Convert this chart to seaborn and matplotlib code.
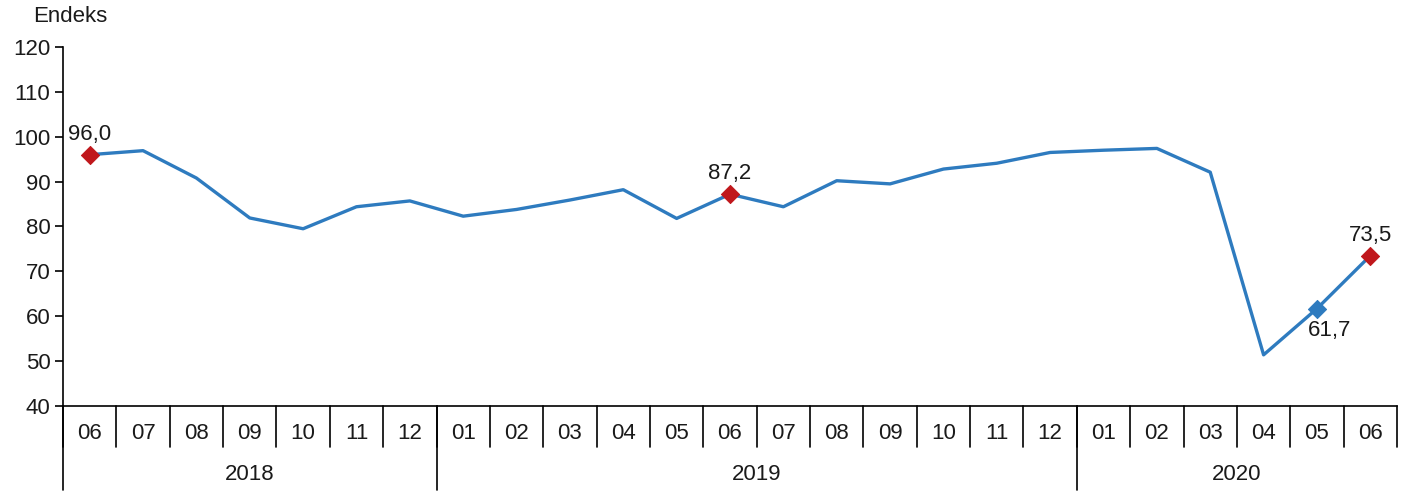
import matplotlib
matplotlib.use("Agg")
import matplotlib.pyplot as plt
import matplotlib.transforms as mtransforms
import numpy as np
import pandas as pd
import seaborn as sns

# Data
months = ["06", "07", "08", "09", "10", "11", "12",
          "01", "02", "03", "04", "05", "06", "07", "08", "09", "10", "11", "12",
          "01", "02", "03", "04", "05", "06"]
years = ["2018", "2019", "2020"]
year_counts = [7, 12, 6]
values = [96.0, 96.9, 90.8, 81.9, 79.5, 84.4, 85.7,
          82.3, 83.8, 85.9, 88.2, 81.8, 87.2, 84.4, 90.2, 89.5, 92.8, 94.1, 96.5,
          97.0, 97.4, 92.1, 51.4, 61.7, 73.5]
red_idx = [0, 12, 24]
blue_idx = [23]

LINE_BLUE = "#2E7BBF"
MARK_RED = "#C0171C"
TEXT = "#1a1a1a"
FS = 16

sns.set_theme(style="white")
plt.rcParams["font.family"] = ["Liberation Sans", "DejaVu Sans"]

df = pd.DataFrame({"x": np.arange(len(values)), "value": values})

fig = plt.figure(figsize=(14.04, 4.94), dpi=100)
ax = fig.add_axes([63 / 1404, 1 - 406 / 494, (1397 - 63) / 1404, 359 / 494])

sns.lineplot(data=df, x="x", y="value", color=LINE_BLUE, linewidth=2.4, ax=ax)
sns.scatterplot(data=df.iloc[red_idx], x="x", y="value", marker="D", s=85,
                color=MARK_RED, edgecolor=MARK_RED, zorder=5, ax=ax)
sns.scatterplot(data=df.iloc[blue_idx], x="x", y="value", marker="D", s=85,
                color=LINE_BLUE, edgecolor=LINE_BLUE, zorder=5, ax=ax)

# value labels
fmt = lambda v: f"{v:.1f}".replace(".", ",")
for i in red_idx:
    ax.annotate(fmt(values[i]), (i, values[i]), xytext=(0, 7), textcoords="offset points",
                ha="center", va="bottom", fontsize=FS, color=TEXT)
for i in blue_idx:
    ax.annotate(fmt(values[i]), (i, values[i]), xytext=(9, -8), textcoords="offset points",
                ha="center", va="top", fontsize=FS, color=TEXT)

ax.set_xlim(-0.5, len(values) - 0.5)
ax.set_ylim(40, 120)
ax.set_yticks(np.arange(40, 121, 10))
ax.set_xticks([])
ax.set_xlabel("")
ax.set_ylabel("")
ax.tick_params(axis="y", which="both", left=True, length=6, width=1.2, color="black",
               labelsize=FS, pad=3, labelcolor=TEXT)
for side in ["top", "right"]:
    ax.spines[side].set_visible(False)
for side in ["left", "bottom"]:
    ax.spines[side].set_color("black")
    ax.spines[side].set_linewidth(1.2)

# category table under the axis
trans = mtransforms.blended_transform_factory(ax.transData, ax.transAxes)
month_bottom = -41 / 359
year_bottom = -84 / 359
for i, m in enumerate(months):
    ax.text(i, -27 / 359, m, transform=trans, ha="center", va="center",
            fontsize=FS, color=TEXT)
for i in range(len(months) + 1):
    ax.plot([i - 0.5, i - 0.5], [0, month_bottom], transform=trans, color="black",
            linewidth=1.2, clip_on=False)
start = 0
for y, n in zip(years, year_counts):
    ax.text(start + (n - 1) / 2, -68 / 359, y, transform=trans, ha="center",
            va="center", fontsize=FS, color=TEXT)
    ax.plot([start - 0.5, start - 0.5], [0, year_bottom], transform=trans,
            color="black", linewidth=1.2, clip_on=False)
    start += n

fig.text(33 / 1404, 1 - 17 / 494, "Endeks", ha="left", va="center", fontsize=FS,
         color=TEXT)

fig.savefig("out.png", dpi=100)
